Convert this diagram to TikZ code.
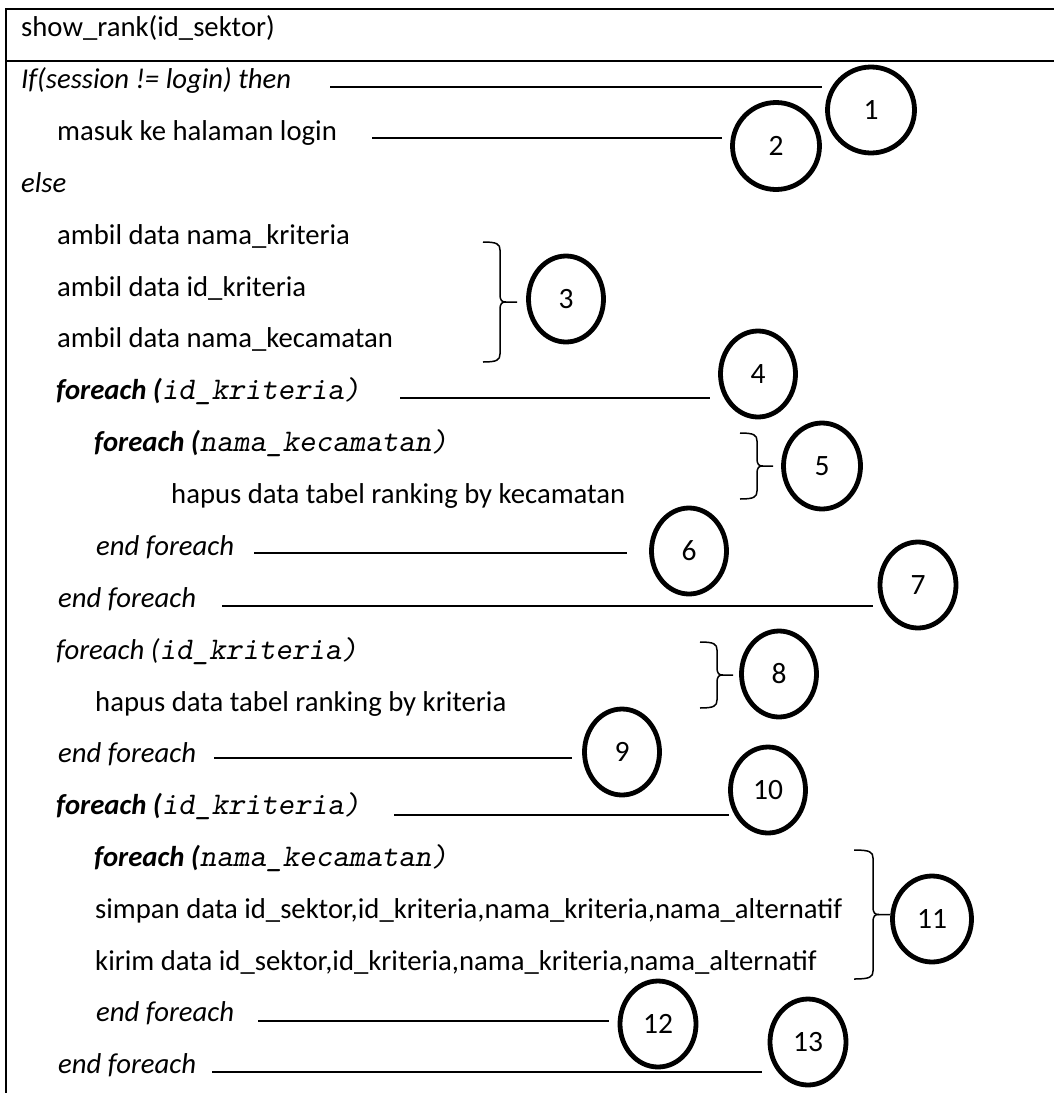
\documentclass[tikz,border=0pt]{standalone}
\usepackage{fontspec}
\setmainfont{Carlito}
\usetikzlibrary{shapes.geometric}

% right curly brace: #1 left ends, #2 spine, #3 tip, #4 top, #5 bottom
\newcommand\bracemark[5]{%
  \draw[brc] (#1,#4) .. controls ({#2-3},#4) and (#2,{#4+2}) .. (#2,{#4+8})
    -- (#2,{(#4+#5)/2-8}) .. controls (#2,{(#4+#5)/2-1}) and ({#2+2},{(#4+#5)/2}) .. ({#2+6},{(#4+#5)/2})
    -- (#3,{(#4+#5)/2});
  \draw[brc] (#1,#5) .. controls ({#2-3},#5) and (#2,{#5-2}) .. (#2,{#5-8})
    -- (#2,{(#4+#5)/2+8}) .. controls (#2,{(#4+#5)/2+1}) and ({#2+2},{(#4+#5)/2}) .. ({#2+6},{(#4+#5)/2});
}

\tikzset{
  frame/.style={line width=2pt},
  lead/.style={line width=1.8pt},
  brc/.style={line width=1.5pt},
  txt/.style={anchor=base west, inner sep=0pt, font=\fontsize{28.7}{34}\selectfont},
  num/.style={ellipse, draw, line width=4.8pt, inner sep=0pt,
              font=\fontsize{29.5}{34}\selectfont},
}
\newcommand\kw[1]{\textbf{\textit{#1}}}
\newcommand\code[1]{{\fontsize{31.5}{34}\selectfont\ttfamily\slshape #1}}

\begin{document}
\begin{tikzpicture}[x=1pt,y=-1pt]
\useasboundingbox (0,0) rectangle (1054,1093);
\fill[white] (0,0) rectangle (1054,1093);

% table frame
\draw[frame] (1054,9) -- (6,9) -- (6,1093);
\draw[frame] (6,61) -- (1054,61);

% pseudocode lines
\node[txt] (t0)  at (21,36)   {show\_rank(id\_sektor)};
\node[txt] (t1)  at (21,88)   {\textit{If(session != login) then}};
\node[txt] (t2)  at (57,140)  {masuk ke halaman login};
\node[txt] (t3)  at (21,192)  {\textit{else}};
\node[txt] (t4)  at (57,244)  {ambil data nama\_kriteria};
\node[txt] (t5)  at (57,296)  {ambil data id\_kriteria};
\node[txt] (t6)  at (57,347)  {ambil data nama\_kecamatan};
\node[txt] (t7)  at (56,399)  {\kw{foreach (}\code{id\_kriteria)}};
\node[txt] (t8)  at (94,451)  {\kw{foreach (}\code{nama\_kecamatan)}};
\node[txt] (t9)  at (171,503) {hapus data tabel ranking by kecamatan};
\node[txt] (t10) at (96,555)  {\textit{end foreach}};
\node[txt] (t11) at (58,607)  {\textit{end foreach}};
\node[txt] (t12) at (56,659)  {\textit{foreach (}\code{id\_kriteria)}};
\node[txt] (t13) at (95,711)  {hapus data tabel ranking by kriteria};
\node[txt] (t14) at (58,762)  {\textit{end foreach}};
\node[txt] (t15) at (56,814)  {\kw{foreach (}\code{id\_kriteria)}};
\node[txt] (t16) at (94,866)  {\kw{foreach (}\code{nama\_kecamatan)}};
\node[txt] (t17) at (95,918)  {simpan data id\_sektor,id\_kriteria,nama\_kriteria,nama\_alternatif};
\node[txt] (t18) at (95,970)  {kirim data id\_sektor,id\_kriteria,nama\_kriteria,nama\_alternatif};
\node[txt] (t19) at (96,1021) {\textit{end foreach}};
\node[txt] (t20) at (58,1073) {\textit{end foreach}};

% numbered markers
\node[num, minimum width=87pt, minimum height=86pt] (c1)  at (871,110)  {1};
\node[num, minimum width=87pt, minimum height=87pt] (c2)  at (776,146)  {2};
\node[num, minimum width=75pt, minimum height=86pt] (c3)  at (566,299)  {3};
\node[num, minimum width=75pt, minimum height=86pt] (c4)  at (758,374)  {4};
\node[num, minimum width=77pt, minimum height=86pt] (c5)  at (822,466)  {5};
\node[num, minimum width=75pt, minimum height=86pt] (c6)  at (689,551)  {6};
\node[num, minimum width=76pt, minimum height=86pt] (c7)  at (918,585)  {7};
\node[num, minimum width=75pt, minimum height=86pt] (c8)  at (779,674)  {8};
\node[num, minimum width=75pt, minimum height=86pt] (c9)  at (622,752)  {9};
\node[num, minimum width=75pt, minimum height=86pt] (c10) at (768,790)  {10};
\node[num, minimum width=79pt, minimum height=86pt] (c11) at (932,919)  {11};
\node[num, minimum width=76pt, minimum height=86pt] (c12) at (658,1024) {12};
\node[num, minimum width=76pt, minimum height=86pt] (c13) at (808,1042) {13};

% leader lines
\coordinate (a1)  at (330,87);   \coordinate (b1)  at (822,87);
\coordinate (a2)  at (372,138);  \coordinate (b2)  at (722,138);
\coordinate (a4)  at (400,398);  \coordinate (b4)  at (710,398);
\coordinate (a6)  at (254,553);  \coordinate (b6)  at (627,553);
\coordinate (a7)  at (222,606);  \coordinate (b7)  at (873,606);
\coordinate (a9)  at (214,758);  \coordinate (b9)  at (572,758);
\coordinate (a10) at (394,815);  \coordinate (b10) at (729,815);
\coordinate (a12) at (258,1021); \coordinate (b12) at (609,1021);
\coordinate (a13) at (212,1072); \coordinate (b13) at (762,1072);
\foreach \i in {1,2,4,6,7,9,10,12,13} \draw[lead] (a\i) -- (b\i);

% braces grouping lines
\bracemark{483}{500}{517}{242}{362}
\bracemark{740}{757}{773}{433}{499}
\bracemark{700}{717}{733}{642}{708}
\bracemark{854}{873}{890}{850}{979}
\end{tikzpicture}
\end{document}
